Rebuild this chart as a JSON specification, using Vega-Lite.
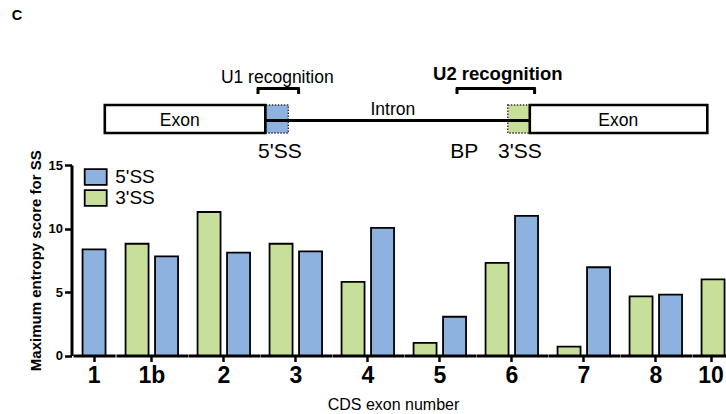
{
  "$schema": "https://vega.github.io/schema/vega-lite/v6.json",
  "padding": {"left": 11, "top": 0, "right": 0, "bottom": 0},
  "bounds": "flush",
  "spacing": 5,
  "datasets": {
    "bars": [
      {"exon": "1", "type": "5'SS", "score": 8.35},
      {"exon": "1b", "type": "3'SS", "score": 8.8},
      {"exon": "1b", "type": "5'SS", "score": 7.8},
      {"exon": "2", "type": "3'SS", "score": 11.3},
      {"exon": "2", "type": "5'SS", "score": 8.1},
      {"exon": "3", "type": "3'SS", "score": 8.8},
      {"exon": "3", "type": "5'SS", "score": 8.2},
      {"exon": "4", "type": "3'SS", "score": 5.8},
      {"exon": "4", "type": "5'SS", "score": 10.05},
      {"exon": "5", "type": "3'SS", "score": 1.0},
      {"exon": "5", "type": "5'SS", "score": 3.05},
      {"exon": "6", "type": "3'SS", "score": 7.3},
      {"exon": "6", "type": "5'SS", "score": 11.0},
      {"exon": "7", "type": "3'SS", "score": 0.7},
      {"exon": "7", "type": "5'SS", "score": 6.95},
      {"exon": "8", "type": "3'SS", "score": 4.65},
      {"exon": "8", "type": "5'SS", "score": 4.8},
      {"exon": "10", "type": "3'SS", "score": 6.0}
    ]
  },
  "vconcat": [
    {
      "width": 653,
      "height": 160,
      "layer": [
        {
          "data": {"values": [
            {"x": 265, "x2": 287.5, "y": 105, "y2": 133, "type": "5'SS"},
            {"x": 507, "x2": 529, "y": 105, "y2": 133, "type": "3'SS"}
          ]},
          "mark": {"type": "rect", "stroke": "#333333", "strokeWidth": 1.4, "strokeDash": [1.5, 1.5]},
          "encoding": {
            "x": {"field": "x", "type": "quantitative", "scale": {"domain": [72.2, 725.2], "nice": false, "zero": false}, "axis": null},
            "x2": {"field": "x2"},
            "y": {"field": "y", "type": "quantitative", "scale": {"domain": [0, 160], "nice": false, "zero": false, "reverse": true}, "axis": null},
            "y2": {"field": "y2"},
            "color": {"field": "type", "type": "nominal", "scale": {"domain": ["5'SS", "3'SS"], "range": ["#8EB2E0", "#C8DF9A"]}}
          }
        },
        {
          "data": {"values": [
            {"x": 264, "x2": 529, "y": 120.5, "y2": 120.5},
            {"x": 256, "x2": 299, "y": 88.5, "y2": 88.5},
            {"x": 257.2, "x2": 257.2, "y": 88.5, "y2": 94},
            {"x": 297.8, "x2": 297.8, "y": 88.5, "y2": 94},
            {"x": 455, "x2": 535, "y": 88.5, "y2": 88.5},
            {"x": 456.2, "x2": 456.2, "y": 88.5, "y2": 94},
            {"x": 533.8, "x2": 533.8, "y": 88.5, "y2": 94}
          ]},
          "mark": {"type": "rule", "color": "black", "strokeWidth": 3},
          "encoding": {
            "x": {"field": "x", "type": "quantitative"},
            "x2": {"field": "x2"},
            "y": {"field": "y", "type": "quantitative"},
            "y2": {"field": "y2"}
          }
        },
        {
          "data": {"values": [
            {"x": 104, "x2": 264.5, "y": 105, "y2": 133},
            {"x": 529, "x2": 706.5, "y": 105, "y2": 133}
          ]},
          "mark": {"type": "rect", "fill": "white", "stroke": "black", "strokeWidth": 2.6},
          "encoding": {
            "x": {"field": "x", "type": "quantitative"},
            "x2": {"field": "x2"},
            "y": {"field": "y", "type": "quantitative"},
            "y2": {"field": "y2"}
          }
        },
        {
          "data": {"values": [
            {"x": 276.5, "y": 78, "label": "U1 recognition"},
            {"x": 392, "y": 110, "label": "Intron"},
            {"x": 179, "y": 120.5, "label": "Exon"},
            {"x": 617.5, "y": 120.5, "label": "Exon"}
          ]},
          "mark": {"type": "text", "fontSize": 17.5, "color": "black", "baseline": "middle", "align": "center"},
          "encoding": {
            "x": {"field": "x", "type": "quantitative"},
            "y": {"field": "y", "type": "quantitative"},
            "text": {"field": "label"}
          }
        },
        {
          "data": {"values": [
            {"x": 497, "y": 74, "label": "U2 recognition"}
          ]},
          "mark": {"type": "text", "fontSize": 18.5, "fontWeight": "bold", "color": "black", "baseline": "middle", "align": "center"},
          "encoding": {
            "x": {"field": "x", "type": "quantitative"},
            "y": {"field": "y", "type": "quantitative"},
            "text": {"field": "label"}
          }
        },
        {
          "data": {"values": [
            {"x": 279, "y": 151.5, "label": "5'SS"},
            {"x": 463.5, "y": 151.5, "label": "BP"},
            {"x": 519, "y": 151.5, "label": "3'SS"}
          ]},
          "mark": {"type": "text", "fontSize": 21, "color": "black", "baseline": "middle", "align": "center"},
          "encoding": {
            "x": {"field": "x", "type": "quantitative"},
            "y": {"field": "y", "type": "quantitative"},
            "text": {"field": "label"}
          }
        },
        {
          "data": {"values": [
            {"x": 11, "y": 20, "label": "C"}
          ]},
          "mark": {"type": "text", "fontSize": 14.5, "fontWeight": "bold", "color": "black", "baseline": "alphabetic", "align": "left"},
          "encoding": {
            "x": {"field": "x", "type": "quantitative"},
            "y": {"field": "y", "type": "quantitative"},
            "text": {"field": "label"}
          }
        }
      ]
    },
    {
      "bounds": "flush",
      "spacing": 0,
      "resolve": {"scale": {"x": "independent", "xOffset": "independent", "y": "independent"}},
      "hconcat": [
        {
          "width": 42.1, "height": 190.5,
          "data": {"name": "bars"},
          "transform": [{"filter": "datum.exon == '1'"}],
          "mark": {"type": "bar", "stroke": "black", "strokeWidth": 1.8},
          "encoding": {
            "x": {"field": "exon", "type": "nominal", "scale": {"paddingInner": 0, "paddingOuter": 0}, "axis": {"title": null}},
            "xOffset": {"field": "type", "type": "nominal", "sort": ["3'SS", "5'SS"], "scale": {"paddingInner": 0.22, "paddingOuter": 0.324}},
            "y": {"field": "score", "type": "quantitative", "scale": {"domain": [0, 15], "nice": false},
                  "axis": {"title": "Maximum entropy score for SS", "values": [0, 5, 10, 15], "offset": 1.5, "titlePadding": 5}},
            "color": {"field": "type", "type": "nominal", "scale": {"domain": ["5'SS", "3'SS"], "range": ["#8EB2E0", "#C8DF9A"]}}
          }
        },
        {
          "width": 71.6, "height": 190.5,
          "data": {"name": "bars"},
          "transform": [{"filter": "datum.exon == '1b'"}],
          "mark": {"type": "bar", "stroke": "black", "strokeWidth": 1.8},
          "encoding": {
            "x": {"field": "exon", "type": "nominal", "scale": {"paddingInner": 0, "paddingOuter": 0}, "axis": {"title": null}},
            "xOffset": {"field": "type", "type": "nominal", "sort": ["3'SS", "5'SS"], "scale": {"paddingInner": 0.22, "paddingOuter": 0.324}},
            "y": {"field": "score", "type": "quantitative", "scale": {"domain": [0, 15], "nice": false}, "axis": null},
            "color": {"field": "type", "type": "nominal"}
          }
        },
        {
          "width": 71.6, "height": 190.5,
          "data": {"name": "bars"},
          "transform": [{"filter": "datum.exon == '2'"}],
          "mark": {"type": "bar", "stroke": "black", "strokeWidth": 1.8},
          "encoding": {
            "x": {"field": "exon", "type": "nominal", "scale": {"paddingInner": 0, "paddingOuter": 0}, "axis": {"title": null}},
            "xOffset": {"field": "type", "type": "nominal", "sort": ["3'SS", "5'SS"], "scale": {"paddingInner": 0.22, "paddingOuter": 0.324}},
            "y": {"field": "score", "type": "quantitative", "scale": {"domain": [0, 15], "nice": false}, "axis": null},
            "color": {"field": "type", "type": "nominal"}
          }
        },
        {
          "width": 71.6, "height": 190.5,
          "data": {"name": "bars"},
          "transform": [{"filter": "datum.exon == '3'"}],
          "mark": {"type": "bar", "stroke": "black", "strokeWidth": 1.8},
          "encoding": {
            "x": {"field": "exon", "type": "nominal", "scale": {"paddingInner": 0, "paddingOuter": 0}, "axis": {"title": null}},
            "xOffset": {"field": "type", "type": "nominal", "sort": ["3'SS", "5'SS"], "scale": {"paddingInner": 0.22, "paddingOuter": 0.324}},
            "y": {"field": "score", "type": "quantitative", "scale": {"domain": [0, 15], "nice": false}, "axis": null},
            "color": {"field": "type", "type": "nominal"}
          }
        },
        {
          "width": 71.6, "height": 190.5,
          "data": {"name": "bars"},
          "transform": [{"filter": "datum.exon == '4'"}],
          "mark": {"type": "bar", "stroke": "black", "strokeWidth": 1.8},
          "encoding": {
            "x": {"field": "exon", "type": "nominal", "scale": {"paddingInner": 0, "paddingOuter": 0},
                  "axis": {"title": "CDS exon number", "titleX": 61, "titleFontSize": 16, "titleFontWeight": "normal", "titlePadding": 9}},
            "xOffset": {"field": "type", "type": "nominal", "sort": ["3'SS", "5'SS"], "scale": {"paddingInner": 0.22, "paddingOuter": 0.324}},
            "y": {"field": "score", "type": "quantitative", "scale": {"domain": [0, 15], "nice": false}, "axis": null},
            "color": {"field": "type", "type": "nominal"}
          }
        },
        {
          "width": 71.6, "height": 190.5,
          "data": {"name": "bars"},
          "transform": [{"filter": "datum.exon == '5'"}],
          "mark": {"type": "bar", "stroke": "black", "strokeWidth": 1.8},
          "encoding": {
            "x": {"field": "exon", "type": "nominal", "scale": {"paddingInner": 0, "paddingOuter": 0}, "axis": {"title": null}},
            "xOffset": {"field": "type", "type": "nominal", "sort": ["3'SS", "5'SS"], "scale": {"paddingInner": 0.22, "paddingOuter": 0.324}},
            "y": {"field": "score", "type": "quantitative", "scale": {"domain": [0, 15], "nice": false}, "axis": null},
            "color": {"field": "type", "type": "nominal"}
          }
        },
        {
          "width": 71.6, "height": 190.5,
          "data": {"name": "bars"},
          "transform": [{"filter": "datum.exon == '6'"}],
          "mark": {"type": "bar", "stroke": "black", "strokeWidth": 1.8},
          "encoding": {
            "x": {"field": "exon", "type": "nominal", "scale": {"paddingInner": 0, "paddingOuter": 0}, "axis": {"title": null}},
            "xOffset": {"field": "type", "type": "nominal", "sort": ["3'SS", "5'SS"], "scale": {"paddingInner": 0.22, "paddingOuter": 0.324}},
            "y": {"field": "score", "type": "quantitative", "scale": {"domain": [0, 15], "nice": false}, "axis": null},
            "color": {"field": "type", "type": "nominal"}
          }
        },
        {
          "width": 71.6, "height": 190.5,
          "data": {"name": "bars"},
          "transform": [{"filter": "datum.exon == '7'"}],
          "mark": {"type": "bar", "stroke": "black", "strokeWidth": 1.8},
          "encoding": {
            "x": {"field": "exon", "type": "nominal", "scale": {"paddingInner": 0, "paddingOuter": 0}, "axis": {"title": null}},
            "xOffset": {"field": "type", "type": "nominal", "sort": ["3'SS", "5'SS"], "scale": {"paddingInner": 0.22, "paddingOuter": 0.324}},
            "y": {"field": "score", "type": "quantitative", "scale": {"domain": [0, 15], "nice": false}, "axis": null},
            "color": {"field": "type", "type": "nominal"}
          }
        },
        {
          "width": 71.6, "height": 190.5,
          "data": {"name": "bars"},
          "transform": [{"filter": "datum.exon == '8'"}],
          "mark": {"type": "bar", "stroke": "black", "strokeWidth": 1.8},
          "encoding": {
            "x": {"field": "exon", "type": "nominal", "scale": {"paddingInner": 0, "paddingOuter": 0}, "axis": {"title": null}},
            "xOffset": {"field": "type", "type": "nominal", "sort": ["3'SS", "5'SS"], "scale": {"paddingInner": 0.22, "paddingOuter": 0.324}},
            "y": {"field": "score", "type": "quantitative", "scale": {"domain": [0, 15], "nice": false}, "axis": null},
            "color": {"field": "type", "type": "nominal"}
          }
        },
        {
          "width": 38.05, "height": 190.5,
          "data": {"name": "bars"},
          "transform": [{"filter": "datum.exon == '10'"}],
          "mark": {"type": "bar", "stroke": "black", "strokeWidth": 1.8},
          "encoding": {
            "x": {"field": "exon", "type": "nominal", "scale": {"paddingInner": 0, "paddingOuter": 0}, "axis": {"title": null}},
            "xOffset": {"field": "type", "type": "nominal", "sort": ["3'SS", "5'SS"], "scale": {"paddingInner": 0.22, "paddingOuter": 0.255, "align": 0.635}},
            "y": {"field": "score", "type": "quantitative", "scale": {"domain": [0, 15], "nice": false}, "axis": null},
            "color": {"field": "type", "type": "nominal"}
          }
        }
      ]
    }
  ],
  "config": {
    "font": "Liberation Sans",
    "view": {"stroke": null},
    "axis": {"domainColor": "black", "tickColor": "black", "labelColor": "black", "titleColor": "black", "grid": false},
    "axisX": {"labelFontSize": 23, "labelFontWeight": "bold", "labelAngle": 0, "labelPadding": 3, "tickSize": 6, "tickWidth": 2.5, "domainWidth": 3},
    "axisY": {"labelFontSize": 13, "labelFontWeight": "bold", "labelPadding": 2, "tickSize": 7, "tickWidth": 2.5, "domainWidth": 3, "titleFontSize": 15, "titleFontWeight": "bold"},
    "legend": {"orient": "none", "legendX": 13.2, "legendY": 167.5, "title": null, "symbolType": "M-1.4,-1H1.4V1H-1.4Z", "symbolSize": 247, "symbolStrokeColor": "black", "symbolStrokeWidth": 1.8, "symbolOpacity": 1, "labelFontSize": 19, "labelOffset": 10, "rowPadding": -3, "labelColor": "black"}
  }
}
